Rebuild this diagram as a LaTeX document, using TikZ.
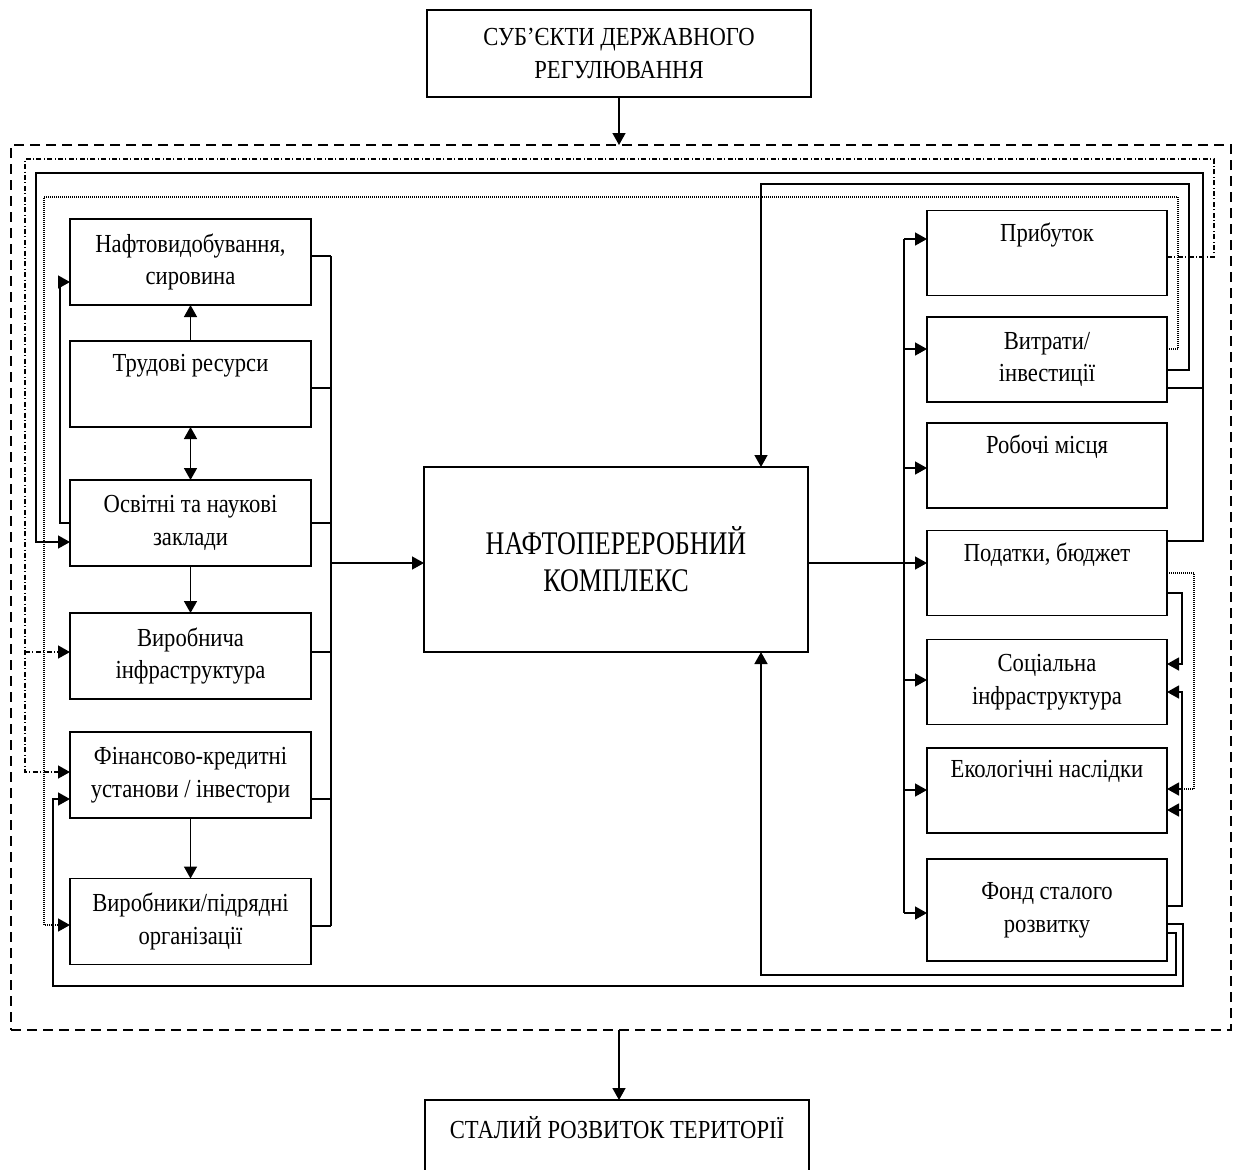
\documentclass[tikz,border=0pt]{standalone}
\usepackage{fontspec}
\setmainfont{Liberation Serif}[FakeStretch=0.87]
\newfontfamily\vuzkyi{Liberation Serif}[FakeStretch=0.79]
\usetikzlibrary{arrows.meta}

\begin{document}
\begin{tikzpicture}[
    % one unit = one pixel of the layout, y downwards
    x=0.5pt, y=-0.5pt,
    >={Triangle[length=6pt,width=6.5pt]},
    line width=0.75pt,
    box/.style={draw, line width=0.9pt, inner sep=0pt, outer sep=0pt,
        align=center, minimum width=120.5pt, minimum height=43pt,
        font=\fontsize{13}{16.3}\selectfont},
    bigbox/.style={box, minimum width=192pt, minimum height=92.5pt,
        font=\vuzkyi\fontsize{16.5}{18.5}\selectfont},
    ramka/.style={draw, inner sep=0pt, outer sep=0pt, line width=0.7pt,
        dash pattern=on 5pt off 3pt},
    arr/.style={->},
    dotarr/.style={->, dash pattern=on 0.4pt off 0.6pt},
    dasharr/.style={->, dash pattern=on 2.5pt off 1.2pt on 0.5pt off 1.2pt}
]
    \clip (0,0) rectangle (1235,1169);

    % --- 1. верх / низ ---
    \node[box, minimum width=192pt, minimum height=43.5pt] (subj) at (619,53.5)
        {СУБ’ЄКТИ ДЕРЖАВНОГО\\РЕГУЛЮВАННЯ};
    \node[ramka, minimum width=610pt, minimum height=442.5pt] (frame) at (621,587.5) {};
    \node[box, minimum width=192pt, minimum height=49pt] (rozv) at (617,1149)
        {СТАЛИЙ РОЗВИТОК ТЕРИТОРІЇ\\\strut};

    \draw[arr] (subj.south) -- (subj.south |- frame.north);
    \draw[arr] (frame.south -| subj.south) -- (subj.south |- rozv.north);

    % --- 2. центр ---
    \node[bigbox] (kompl) at (616,559.5) {НАФТОПЕРЕРОБНИЙ\\КОМПЛЕКС};

    % --- 3. ліва колонка ---
    \node[box] (nafta)   at (190.5,262)   {Нафтовидобування,\\сировина};
    \node[box] (trud)    at (190.5,384)   {Трудові ресурси\\\strut};
    \node[box] (osvit)   at (190.5,523)   {Освітні та наукові\\заклади};
    \node[box] (vyrinfr) at (190.5,656)   {Виробнича\\інфраструктура};
    \node[box] (fin)     at (190.5,775)   {Фінансово-кредитні\\установи / інвестори};
    \node[box] (vyrob)   at (190.5,921.5) {Виробники/підрядні\\організації};

    \draw[arr] (trud) -- (nafta);
    \draw[<->] (trud) -- (osvit);
    \draw[arr] (osvit) -- (vyrinfr);
    \draw[arr] (fin) -- (vyrob);

    \foreach \n/\y in {nafta/256, trud/388, osvit/523, vyrinfr/652, fin/799, vyrob/926}
        \draw (\n.east |- 0,\y) -- (331,\y);
    \draw (331,256) -- (331,926);
    \draw[arr] (331,563) -- (kompl.west |- 0,563);

    % --- 4. права колонка ---
    \node[box, minimum width=120pt, minimum height=42.5pt] (prybut)  at (1047,253)   {Прибуток\\\strut};
    \node[box, minimum width=120pt, minimum height=42.5pt] (vytr)    at (1047,359.5) {Витрати/\\інвестиції};
    \node[box, minimum width=120pt, minimum height=42.5pt] (robochi) at (1047,465.5) {Робочі місця\\\strut};
    \node[box, minimum width=120pt, minimum height=42.5pt] (podatky) at (1047,573)   {Податки, бюджет\\\strut};
    \node[box, minimum width=120pt, minimum height=42.5pt] (social)  at (1047,682)   {Соціальна\\інфраструктура};
    \node[box, minimum width=120pt, minimum height=42.5pt] (ekol)    at (1047,790.5) {Екологічні наслідки\\\strut};
    \node[box, minimum width=120pt, minimum height=51pt]   (fond)    at (1047,910)   {Фонд сталого\\розвитку};

    \draw (904,239) -- (904,913);
    \foreach \n/\y in {prybut/239, vytr/349, robochi/468, social/680, ekol/790, fond/913}
        \draw[arr] (904,\y) -- (\n.west |- 0,\y);
    \draw[arr] (kompl.east |- 0,563) -- (podatky.west |- 0,563);

    % --- 5. зворотні зв'язки ---
    \draw[arr] (osvit.west |- 0,523) -- (60,523) -- (60,282) -- (nafta.west |- 0,282);
    \draw[arr] (podatky.east |- 0,541) -- (1203,541) -- (1203,173) -- (36,173)
        -- (36,542) -- (osvit.west |- 0,542);
    \draw (vytr.east |- 0,388) -- (1203,388);
    \draw[arr] (vytr.east |- 0,370) -- (1189,370) -- (1189,184) -- (761,184)
        -- (kompl.north -| 761,0);
    \draw[dotarr] (vytr.east |- 0,349) -- (1178,349) -- (1178,197) -- (44,197)
        -- (44,925) -- (vyrob.west |- 0,925);
    \draw[dasharr] (prybut.east |- 0,257) -- (1214,257) -- (1214,159) -- (25,159)
        -- (25,772) -- (fin.west |- 0,772);
    \draw[dasharr] (25,652) -- (vyrinfr.west |- 0,652);

    \draw[dotarr] (podatky.east |- 0,573) -- (1194,573) -- (1194,789) -- (ekol.east |- 0,789);
    \draw[arr] (podatky.east |- 0,593) -- (1182,593) -- (1182,664) -- (social.east |- 0,664);
    \draw[arr] (fond.east |- 0,906) -- (1182,906) -- (1182,692) -- (social.east |- 0,692);
    \draw[arr] (1182,810) -- (ekol.east |- 0,810);
    \draw[arr] (fond.east |- 0,924) -- (1183,924) -- (1183,986) -- (53,986)
        -- (53,799) -- (fin.west |- 0,799);
    \draw[arr] (fond.east |- 0,933) -- (1176,933) -- (1176,975) -- (761,975)
        -- (kompl.south -| 761,0);

\end{tikzpicture}
\end{document}
